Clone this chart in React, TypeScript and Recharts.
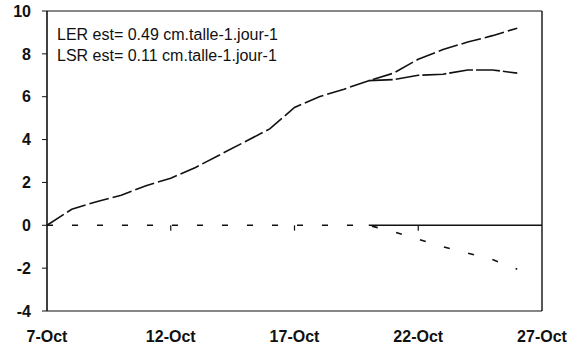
import React from 'react';
import { LineChart, Line, XAxis, YAxis, ReferenceLine } from 'recharts';

// day of October
const days = [7, 8, 9, 10, 11, 12, 13, 14, 15, 16, 17, 18, 19, 20, 21, 22, 23, 24, 25, 26];
// LER (upper curve)
const lerValues = [0, 0.75, 1.1, 1.4, 1.85, 2.2, 2.7, 3.3, 3.9, 4.5, 5.5, 6.0, 6.35, 6.75, 7.1, 7.75, 8.2, 8.55, 8.85, 9.2];
// flattening branch, starts on 20-Oct
const flatValues = [null, null, null, null, null, null, null, null, null, null, null, null, null, 6.75, 6.8, 7.0, 7.05, 7.25, 7.25, 7.1];
// LSR
const lsrValues = [0, 0, 0, 0, 0, 0, 0, 0, 0, 0, 0, 0, 0, 0, -0.3, -0.65, -1.0, -1.3, -1.6, -2.05];

const xTicks = [7, 12, 17, 22, 27];
const yTicks = [-4, -2, 0, 2, 4, 6, 8, 10];
const annotations = ['LER est= 0.49 cm.talle-1.jour-1', 'LSR est= 0.11 cm.talle-1.jour-1'];
const zeroAxisFrom = 20;

const data = days.map((d, i) => ({
  day: d,
  ler: lerValues[i],
  flat: flatValues[i],
  lsr: lsrValues[i],
}));

const INK = '#111';
const FONT = '"Liberation Sans", Arial, sans-serif';

export default function App() {
  return (
    <div style={{ position: 'absolute', left: 0, top: 0, width: 580, height: 348, background: '#fff', fontFamily: FONT }}>
      <LineChart width={580} height={348} data={data} margin={{ top: 11, right: 38, left: 0, bottom: 0 }}>
        <XAxis
          dataKey="day"
          type="number"
          domain={[7, 27]}
          ticks={xTicks}
          tickFormatter={(v: number) => `${v}-Oct`}
          axisLine={{ stroke: INK, strokeWidth: 1.2 }}
          tickLine={false}
          tickMargin={14}
          height={37}
          tick={{ fill: INK, fontSize: 16, fontWeight: 700, fontFamily: FONT }}
        />
        <YAxis
          type="number"
          domain={[-4, 10]}
          ticks={yTicks}
          width={47}
          axisLine={{ stroke: INK, strokeWidth: 1.6 }}
          tickLine={{ stroke: INK }}
          tickSize={5}
          tickMargin={11}
          tick={{ fill: INK, fontSize: 16, fontWeight: 700, fontFamily: FONT }}
        />
        <ReferenceLine y={10} stroke={INK} strokeWidth={1.2} />
        <ReferenceLine x={27} stroke={INK} strokeWidth={1.4} />
        <ReferenceLine
          segment={[{ x: zeroAxisFrom, y: 0 }, { x: 27, y: 0 }]}
          stroke={INK}
          strokeWidth={1.4}
        />
        {xTicks.slice(1, -1).map((t) => (
          <ReferenceLine
            key={t}
            segment={[{ x: t, y: 0 }, { x: t, y: -0.25 }]}
            stroke={INK}
            strokeWidth={1.2}
          />
        ))}
        <Line
          type="linear"
          dataKey="lsr"
          stroke={INK}
          strokeWidth={1.6}
          strokeDasharray="6 19"
          dot={false}
          isAnimationActive={false}
        />
        <Line
          type="linear"
          dataKey="ler"
          stroke={INK}
          strokeWidth={1.6}
          strokeDasharray="20 4"
          dot={false}
          isAnimationActive={false}
        />
        <Line
          type="linear"
          dataKey="flat"
          stroke={INK}
          strokeWidth={1.6}
          strokeDasharray="24 3"
          dot={false}
          connectNulls={false}
          isAnimationActive={false}
        />
      </LineChart>
      {annotations.map((t, i) => (
        <div
          key={t}
          style={{
            position: 'absolute',
            left: 57,
            top: 27 + i * 21,
            fontSize: 16,
            lineHeight: '16px',
            color: INK,
            whiteSpace: 'nowrap',
          }}
        >
          {t}
        </div>
      ))}
    </div>
  );
}
